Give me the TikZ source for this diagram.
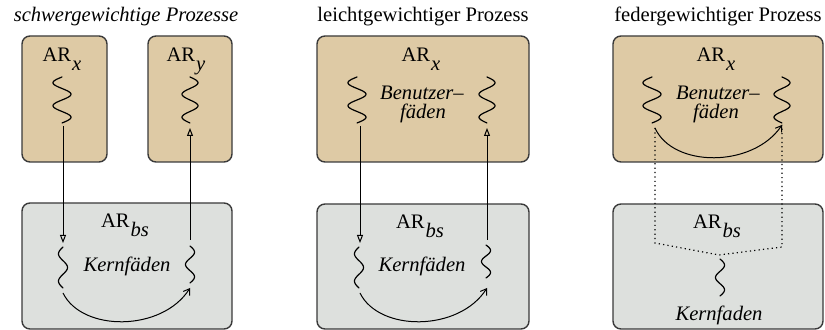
\documentclass[tikz,border=0pt]{standalone}
\usepackage{fontspec}
\setmainfont{Liberation Serif}
\usetikzlibrary{arrows.meta}
\definecolor{utan}{HTML}{DECAA5}
\definecolor{kgray}{HTML}{DDE0DD}
\definecolor{edge}{HTML}{3A3A3A}
\tikzset{
  box/.style={draw=edge, line width=0.7pt, rounded corners=4pt},
  ubox/.style={box, fill=utan},
  kbox/.style={box, fill=kgray},
  thread/.style={line width=0.6pt, line cap=round},
  lbl/.style={font=\fontsize{10.3}{12}\selectfont, inner sep=0pt, anchor=base},
  ilbl/.style={lbl, font=\fontsize{10.3}{12}\selectfont\itshape},
  callarrow/.style={line width=0.5pt, -{Triangle[open,length=4pt,width=3pt]}},
  switcharrow/.style={line width=0.5pt, -{Straight Barb[length=2.8pt,width=3.8pt]}},
  dotline/.style={line width=0.6pt, dash pattern=on 0.6pt off 1.6pt}
}
% user thread squiggle: x centre, y top, y bottom, amplitude, sign
\newcommand{\usquig}[5]{%
  \draw[thread] plot[domain=0:1,samples=60,smooth]
    ({#1 + #5*#4*sin(720*\x)},{#2 + (#3-#2)*\x});}
% kernel thread squiggle
\newcommand{\ksquig}[5]{%
  \draw[thread] plot[domain=0:1,samples=60,smooth]
    ({#1 + #5*#4*sin(540*\x+180)},{#2 + (#3-#2)*\x});}
\newcommand{\ARsub}[1]{AR\kern0.5pt\raisebox{-0.42em}{\textit{#1}}}
\begin{document}
\begin{tikzpicture}[x=0.5pt,y=-0.5pt]
\useasboundingbox (0,0) rectangle (825,330);

% ---------------- titles
\node[ilbl] (t1) at (126,22) {schwergewichtige Prozesse};
\node[lbl]  (t2) at (423,22) {leichtgewichtiger Prozess};
\node[lbl]  (t3) at (718,22) {federgewichtiger Prozess};

% ---------------- boxes
\path[ubox] (22,36) rectangle (107,162);
\path[ubox] (148,36) rectangle (232,162);
\path[kbox] (22,203) rectangle (232,329);
\path[ubox] (317,36) rectangle (529,162);
\path[kbox] (317,204) rectangle (529,329);
\path[ubox] (613,36) rectangle (823,162);
\path[kbox] (613,204) rectangle (823,329);

% ---------------- labels
\node[lbl] (arx1) at (62,62) {\ARsub{x}};
\node[lbl] (ary1) at (186,62) {\ARsub{y}};
\node[lbl] (arbs1) at (125,228) {\ARsub{bs}};
\node[ilbl] (kf1) at (127,272) {Kernfäden};

\node[lbl] (arx2) at (421,62) {\ARsub{x}};
\node[ilbl] (bn2) at (422,100) {Benutzer–};
\node[ilbl] (fd2) at (423,119) {fäden};
\node[lbl] (arbs2) at (420,229) {\ARsub{bs}};
\node[ilbl] (kf2) at (422,272) {Kernfäden};

\node[lbl] (arx3) at (716,62) {\ARsub{x}};
\node[ilbl] (bn3) at (718,100) {Benutzer–};
\node[ilbl] (fd3) at (716,119) {fäden};
\node[lbl] (arbs3) at (717,229) {\ARsub{bs}};
\node[ilbl] (kf3) at (719,321) {Kernfaden};

% ---------------- squiggles
\usquig{62}{77}{123}{9}{-1}
\usquig{190}{77}{123}{8}{1}
\ksquig{63}{247}{288}{4.5}{1}
\ksquig{190}{246}{283}{4.5}{-1}

\usquig{357}{77}{123}{9}{-1}
\usquig{487}{77}{123}{8}{1}
\ksquig{359}{247}{288}{4.5}{1}
\ksquig{486}{245}{278}{4.5}{-1}

\usquig{652}{77}{123}{9}{-1}
\usquig{782}{77}{123}{8}{1}
\ksquig{720}{259}{296}{4.5}{-1}

% ---------------- coordinates
\coordinate (a1s) at (63,126);
\coordinate (a1e) at (63,243);
\coordinate (b1s) at (190,240);
\coordinate (b1e) at (190,128);
\coordinate (c1s) at (63,293);
\coordinate (c1e) at (190,288);

\coordinate (a2s) at (360,126);
\coordinate (a2e) at (360,243);
\coordinate (b2s) at (487,240);
\coordinate (b2e) at (487,128);
\coordinate (c2s) at (360,293);
\coordinate (c2e) at (487,288);

\coordinate (c3s) at (655,128);
\coordinate (c3e) at (782,125);
\coordinate (d3a) at (655,243);
\coordinate (d3b) at (719,255);
\coordinate (d3c) at (782,247);

% ---------------- connectors
\draw[callarrow] (a1s) -- (a1e);
\draw[callarrow] (b1s) -- (b1e);
\draw[switcharrow] (c1s) .. controls (82,332) and (162,332) .. (c1e);

\draw[callarrow] (a2s) -- (a2e);
\draw[callarrow] (b2s) -- (b2e);
\draw[switcharrow] (c2s) .. controls (379,332) and (459,332) .. (c2e);

\draw[switcharrow] (c3s) .. controls (673,168) and (753,168) .. (c3e);
\draw[dotline] (c3s) -- (d3a) -- (d3b) -- (d3c) -- (c3e);
\end{tikzpicture}
\end{document}
